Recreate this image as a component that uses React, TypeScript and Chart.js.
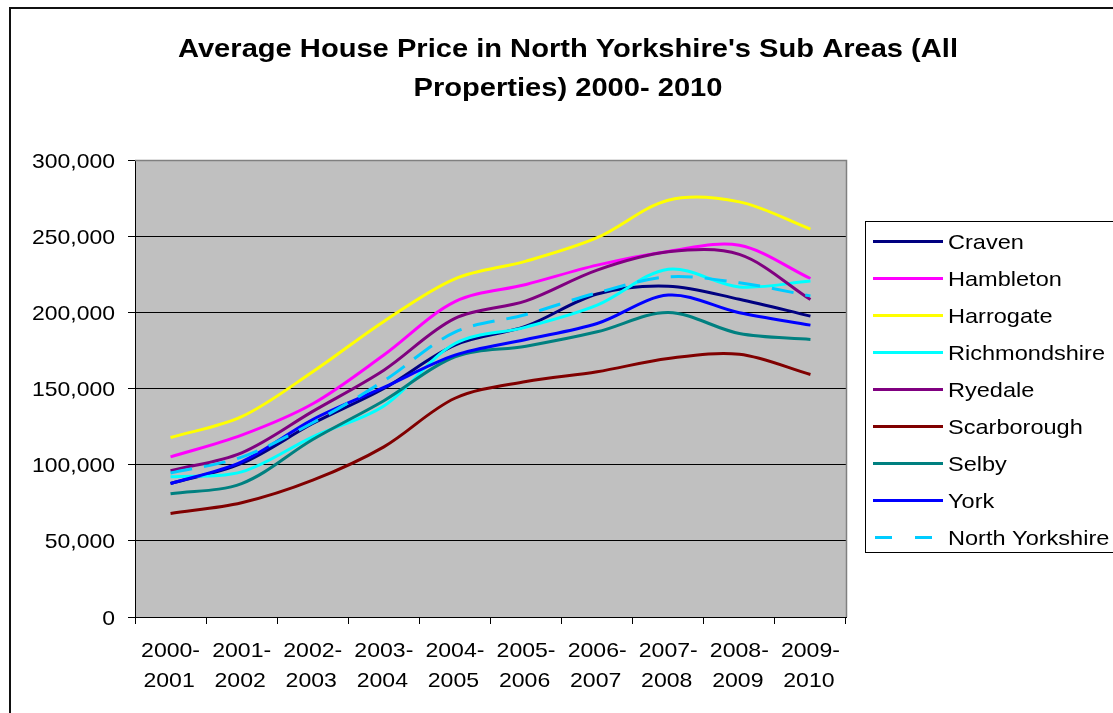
import React, { useEffect, useRef } from 'react';
import { Chart, registerables } from 'chart.js';

Chart.register(...registerables);

const titleLines = ["Average House Price in North Yorkshire's Sub Areas (All", 'Properties) 2000- 2010'];

const categories = [
  '2000-2001', '2001-2002', '2002-2003', '2003-2004', '2004-2005',
  '2005-2006', '2006-2007', '2007-2008', '2008-2009', '2009-2010',
];

const yTicks = [0, 50000, 100000, 150000, 200000, 250000, 300000];

const seriesNames = ['Craven', 'Hambleton', 'Harrogate', 'Richmondshire', 'Ryedale', 'Scarborough', 'Selby', 'York', 'North Yorkshire'];
const seriesColors = ['#000080', '#FF00FF', '#FFFF00', '#00FFFF', '#800080', '#800000', '#008080', '#0000FF', '#00CCFF'];

const craven = [87600, 100800, 127000, 150000, 178500, 190900, 212000, 217200, 208600, 197500];
const hambleton = [105100, 119400, 140000, 172000, 207000, 218300, 231000, 240000, 244000, 222200];
const harrogate = [117800, 131500, 161000, 194000, 222000, 233600, 249000, 273600, 272500, 254600];
const richmondshire = [92000, 95300, 118300, 138500, 179500, 190300, 204700, 228300, 216700, 220500];
const ryedale = [96000, 107800, 135000, 162000, 196000, 207500, 227700, 239700, 238000, 208400];
const scarborough = [68000, 75000, 89800, 111700, 143600, 154600, 161000, 169700, 172500, 159200];
const selby = [80900, 87600, 116500, 142000, 170800, 177800, 187200, 199900, 186100, 182200];
const york = [87600, 101900, 129600, 150700, 171900, 182200, 192700, 211300, 199700, 191600];
const northYorkshire = [94500, 105000, 127500, 155000, 187000, 198600, 212800, 223300, 219400, 210800];

const seriesValues = [craven, hambleton, harrogate, richmondshire, ryedale, scarborough, selby, york, northYorkshire];

const FONT = '"Liberation Sans", Arial, sans-serif';

function scaledText(ctx: CanvasRenderingContext2D, text: string, x: number, y: number, align: CanvasTextAlign, sx: number) {
  ctx.save();
  ctx.translate(x, y);
  ctx.scale(sx, 1);
  ctx.textAlign = align;
  ctx.textBaseline = 'alphabetic';
  ctx.fillText(text, 0, 0);
  ctx.restore();
}

const decorPlugin = {
  id: 'decor',
  beforeDraw(chart: any) {
    const { ctx, chartArea } = chart;
    ctx.save();
    ctx.fillStyle = '#ffffff';
    ctx.fillRect(0, 0, chart.width, chart.height);
    ctx.fillStyle = '#C0C0C0';
    ctx.fillRect(chartArea.left, chartArea.top, chartArea.right - chartArea.left, chartArea.bottom - chartArea.top);
    ctx.strokeStyle = '#111111';
    ctx.lineWidth = 2;
    ctx.strokeRect(10, 8, 1400, 1000);
    ctx.restore();
  },
  beforeDatasetsDraw(chart: any) {
    const { ctx, chartArea } = chart;
    ctx.save();
    ctx.strokeStyle = '#808080';
    ctx.lineWidth = 1.5;
    ctx.beginPath();
    ctx.moveTo(chartArea.left, chartArea.top + 0.5);
    ctx.lineTo(chartArea.right + 0.5, chartArea.top + 0.5);
    ctx.lineTo(chartArea.right + 0.5, chartArea.bottom);
    ctx.stroke();
    ctx.restore();
  },
  afterDraw(chart: any) {
    const { ctx } = chart;
    ctx.save();
    ctx.fillStyle = '#000';

    // title
    ctx.font = `bold 25.5px ${FONT}`;
    const tsx = 780 / ctx.measureText(titleLines[0]).width;
    scaledText(ctx, titleLines[0], 568, 56.5, 'center', tsx);
    scaledText(ctx, titleLines[1], 568, 95.5, 'center', tsx);

    // y tick labels
    const ys = chart.scales.y;
    ctx.font = `21px ${FONT}`;
    const ysx = 83 / ctx.measureText('300,000').width;
    ys.ticks.forEach((t: any) => {
      const py = ys.getPixelForValue(t.value);
      scaledText(ctx, Number(t.value).toLocaleString('en-US'), 115, py + 7.5, 'right', ysx);
    });

    // x tick labels
    const xs = chart.scales.x;
    const xsx = 59 / ctx.measureText('2000-').width;
    categories.forEach((c, i) => {
      const px = xs.getPixelForValue(i);
      const [a, b] = c.split('-');
      scaledText(ctx, a + '-', px, 656.5, 'center', xsx);
      scaledText(ctx, b, px - 1.5, 686.5, 'center', xsx);
    });

    // legend
    const bx = 865.5, by = 221.5, bh = 331;
    ctx.fillStyle = '#ffffff';
    ctx.fillRect(bx, by, 400, bh);
    ctx.strokeStyle = '#000';
    ctx.lineWidth = 1;
    ctx.strokeRect(bx, by, 400, bh);
    ctx.font = `21px ${FONT}`;
    const lsx = 157 / ctx.measureText('Richmondshire').width;
    chart.data.datasets.forEach((ds: any, i: number) => {
      const y = 241.5 + i * 37;
      const dashed = ds.borderDash && ds.borderDash.length;
      ctx.strokeStyle = ds.borderColor;
      ctx.lineWidth = 3;
      ctx.setLineDash(dashed ? [17, 23] : []);
      ctx.beginPath();
      ctx.moveTo(dashed ? 875 : 873, y);
      ctx.lineTo(943, y);
      ctx.stroke();
      ctx.setLineDash([]);
      ctx.fillStyle = '#000';
      scaledText(ctx, ds.label, 948, y + 7, 'left', lsx);
    });
    ctx.restore();
  },
};

export default function App() {
  const ref = useRef<HTMLCanvasElement>(null);
  useEffect(() => {
    if (!ref.current) return;
    const chart = new Chart(ref.current, {
      type: 'line',
      data: {
        labels: categories,
        datasets: seriesNames.map((name, i) => ({
          label: name,
          data: seriesValues[i],
          borderColor: seriesColors[i],
          backgroundColor: seriesColors[i],
          borderWidth: 3,
          borderDash: name === 'North Yorkshire' ? [22, 12] : [],
          pointRadius: 0,
          tension: 0.33,
          fill: false,
          order: seriesNames.length - 1 - i,
        })),
      },
      options: {
        animation: false,
        responsive: false,
        layout: { padding: { left: 0, top: 160, right: 1113 - 846, bottom: 0 } },
        plugins: {
          legend: { display: false },
          title: { display: false },
          tooltip: { enabled: false },
        },
        scales: {
          x: {
            type: 'category',
            offset: true,
            grid: {
              offset: true,
              drawOnChartArea: false,
              drawTicks: true,
              tickLength: 7,
              tickColor: '#000',
              color: '#000',
            },
            border: { display: true, color: '#000', width: 1 },
            ticks: { display: false, autoSkip: false, maxRotation: 0 },
            afterFit(scale: any) {
              scale.height = 713 - 617;
            },
          },
          y: {
            min: 0,
            max: 300000,
            afterBuildTicks(scale: any) {
              scale.ticks = yTicks.map((v) => ({ value: v }));
            },
            grid: {
              color: (c: any) => (c.tick && c.tick.value === 300000 ? '#808080' : '#000'),
              tickColor: '#000',
              tickLength: 7,
              lineWidth: 1,
            },
            border: { display: true, color: '#000', width: 1 },
            ticks: { display: false },
            afterFit(scale: any) {
              scale.width = 135;
            },
          },
        },
      },
      plugins: [decorPlugin],
    });
    return () => chart.destroy();
  }, []);
  return (
    <div style={{ position: 'fixed', left: 0, top: 0, width: 1113, height: 713, overflow: 'hidden', background: '#fff' }}>
      <canvas ref={ref} width={1113} height={713} style={{ display: 'block', width: 1113, height: 713 }} />
    </div>
  );
}
